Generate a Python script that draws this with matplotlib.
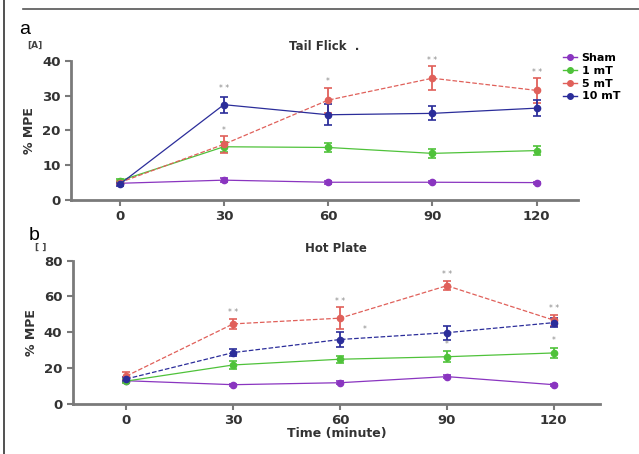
import matplotlib
matplotlib.use("Agg")
import matplotlib.pyplot as plt
from matplotlib.lines import Line2D

times = [0, 30, 60, 90, 120]
groups = ["Sham", "1 mT", "5 mT", "10 mT"]
colors = ["#8a35c0", "#4fc23a", "#e0605a", "#2b2d9a"]

# Tail flick %MPE
tf_sham = [4.8, 5.7, 5.1, 5.1, 5.0]
tf_1mt = [5.5, 15.3, 15.1, 13.4, 14.2]
tf_5mt = [5.0, 16.0, 28.7, 35.0, 31.5]
tf_10mt = [4.5, 27.4, 24.5, 24.9, 26.4]
tf_sham_err = [0.3, 0.5, 0.4, 0.3, 0.3]
tf_1mt_err = [0.5, 1.5, 1.4, 1.2, 1.2]
tf_5mt_err = [0.5, 2.5, 3.6, 3.4, 3.6]
tf_10mt_err = [0.5, 2.3, 3.0, 2.0, 2.3]

# Hot plate %MPE
hp_sham = [13.0, 10.8, 11.9, 15.3, 10.8]
hp_1mt = [12.8, 21.8, 25.0, 26.4, 28.5]
hp_5mt = [15.6, 44.7, 47.9, 66.0, 46.8]
hp_10mt = [14.0, 28.7, 36.0, 39.8, 45.4]
hp_sham_err = [0.6, 0.6, 0.8, 1.0, 0.5]
hp_1mt_err = [1.0, 2.0, 2.0, 3.0, 3.0]
hp_5mt_err = [2.0, 3.0, 6.0, 2.5, 3.0]
hp_10mt_err = [1.0, 2.0, 4.0, 4.0, 2.5]

# significance marks (time, y, text)
tf_stars = [(30, 30.8, "* *"), (30, 18.8, "*"), (60, 32.8, "*"), (90, 38.8, "* *"), (120, 35.3, "* *")]
hp_stars = [(30, 48.5, "* *"), (60, 54.5, "* *"), (67, 39.0, "*"), (90, 69.5, "* *"),
            (120, 50.5, "* *"), (90, 30.5, "*"), (120, 33.0, "*")]

plt.rcParams['font.family'] = ['DejaVu Sans']
fig = plt.figure(figsize=(6.39, 4.54), dpi=100)
axc = "#7a7a7a"
txt = "#333333"


def panel(ax, series, errs, styles, ylim, yticks, xlim, stars):
    for vals, err, col, ls in zip(series, errs, colors, styles):
        ax.errorbar(times, vals, yerr=err, color=col, lw=0.9, ls=ls, marker='o', ms=4.5,
                    mec=col, capsize=3, elinewidth=1.3, capthick=1.2, zorder=3)
    for x, y, s in stars:
        ax.text(x, y, s, ha='center', va='bottom', fontsize=5.5, color="#888888")
    ax.set_xlim(*xlim)
    ax.set_ylim(*ylim)
    ax.set_yticks(yticks)
    ax.set_xticks(times)
    for sp in ['top', 'right']:
        ax.spines[sp].set_visible(False)
    for sp in ['left', 'bottom']:
        ax.spines[sp].set_color(axc)
        ax.spines[sp].set_linewidth(2)
    ax.tick_params(colors=axc, width=1.5, length=4, labelsize=9.5, labelcolor=txt)
    for lb in ax.get_xticklabels() + ax.get_yticklabels():
        lb.set_fontweight('bold')


ax1 = fig.add_axes([0.111, 0.5595, 0.794, 0.3065])
panel(ax1, [tf_sham, tf_1mt, tf_5mt, tf_10mt],
      [tf_sham_err, tf_1mt_err, tf_5mt_err, tf_10mt_err],
      ['-', '-', '--', '-'], (0, 40), [0, 10, 20, 30, 40], (-14, 132), tf_stars)
ax1.set_title("Tail Flick  .", fontsize=8.5, fontweight='bold', color=txt, pad=8)
ax1.set_ylabel("% MPE", fontsize=9, fontweight='bold', color=txt, labelpad=4)

handles = [Line2D([0], [0], color=c, marker='o', ms=4, lw=1) for c in colors]
fig.legend(handles, groups, loc='upper left', bbox_to_anchor=(0.865, 0.905), frameon=False,
           handlelength=1.3, handletextpad=0.4, labelspacing=0.25,
           prop={'weight': 'bold', 'size': 8})

ax2 = fig.add_axes([0.114, 0.110, 0.825, 0.316])
panel(ax2, [hp_sham, hp_1mt, hp_5mt, hp_10mt],
      [hp_sham_err, hp_1mt_err, hp_5mt_err, hp_10mt_err],
      ['-', '-', '--', '--'], (0, 80), [0, 20, 40, 60, 80], (-15, 133), hp_stars)
ax2.set_title("Hot Plate", fontsize=8.5, fontweight='bold', color=txt, pad=6)
ax2.set_ylabel("% MPE", fontsize=9, fontweight='bold', color=txt, labelpad=4)
ax2.set_xlabel("Time (minute)", fontsize=9, fontweight='bold', color=txt, labelpad=0)

# frame lines and panel letters
fig.add_artist(Line2D([0.036, 1.0], [0.980, 0.980], color="#555555", lw=1.2))
fig.add_artist(Line2D([0.006, 0.006], [0.0, 1.0], color="#333333", lw=1.2))
fig.text(0.03, 0.925, "a", fontsize=14, color="black", family='Liberation Sans')
fig.text(0.045, 0.472, "b", fontsize=14, color="black", family='Liberation Sans')
fig.text(0.043, 0.895, "[A]", fontsize=6.5, fontweight='bold', color="#444444")
fig.text(0.055, 0.466, "[ ]", fontsize=6.5, fontweight='bold', color="#444444", va='top')

fig.savefig("out.png", dpi=100)
